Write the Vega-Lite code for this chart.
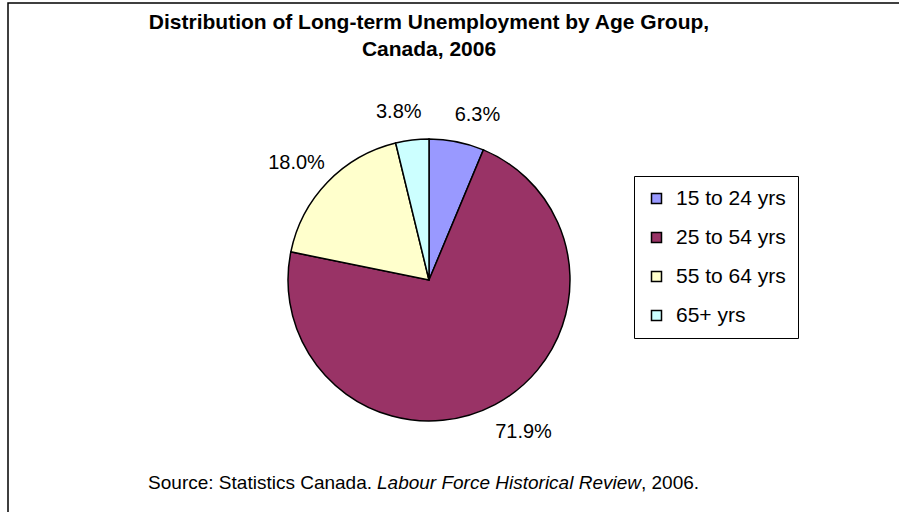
{
  "$schema": "https://vega.github.io/schema/vega-lite/v6.json",
  "width": 940,
  "height": 540,
  "autosize": {"type": "none"},
  "padding": {"left": 8, "top": 3, "right": -49, "bottom": -31},
  "background": "white",
  "view": {"stroke": "black", "strokeWidth": 1.5, "fill": "white"},
  "config": {"view": {"stroke": "black", "strokeWidth": 1.5}, "font": "Liberation Sans"},
  "title": {
    "text": ["Distribution of Long-term Unemployment by Age Group,", "Canada, 2006"],
    "fontSize": 21, "fontWeight": "bold", "font": "Liberation Sans", "color": "black",
    "anchor": "start", "frame": "group", "align": "center", "baseline": "alphabetic", "offset": 0,
    "dy": 74, "dx": 421, "lineHeight": 27
  },
  "data": {"values": [
    {"group": "15 to 24 yrs", "share": 0.063},
    {"group": "25 to 54 yrs", "share": 0.719},
    {"group": "55 to 64 yrs", "share": 0.180},
    {"group": "65+ yrs", "share": 0.038}
  ]},
  "layer": [
    {
      "mark": {"type": "arc", "x": 421, "y": 277, "outerRadius": 141, "stroke": "black", "strokeWidth": 1.5},
      "encoding": {
        "theta": {"field": "share", "type": "quantitative", "stack": true},
        "order": {"field": "group", "type": "ordinal"},
        "color": {
          "field": "group", "type": "nominal",
          "scale": {"domain": ["15 to 24 yrs", "25 to 54 yrs", "55 to 64 yrs", "65+ yrs"], "range": ["#9999FF", "#993366", "#FFFFCC", "#CCFFFF"]},
          "legend": {
            "orient": "none", "legendX": 626, "legendY": 173, "title": null,
            "strokeColor": "black", "fillColor": "white", "padding": 12,
            "symbolType": "square", "symbolSize": 100, "symbolStrokeColor": "black", "symbolStrokeWidth": 1.5,
            "labelFontSize": 21, "labelFont": "Liberation Sans", "labelColor": "black",
            "rowPadding": 17, "labelOffset": 9
          }
        }
      }
    },
    {
      "mark": {"type": "text", "x": 421, "y": 277, "radius": 170, "dx": 15, "dy": 2, "fontSize": 20, "font": "Liberation Sans", "color": "black", "baseline": "middle", "align": "center"},
      "encoding": {
        "theta": {"field": "share", "type": "quantitative", "stack": true},
        "order": {"field": "group", "type": "ordinal"},
        "detail": {"field": "group", "type": "nominal"},
        "text": {"condition": {"test": "datum.group == '15 to 24 yrs' || datum.group == '25 to 54 yrs'", "field": "share", "type": "quantitative", "format": ".1%"}, "value": ""}
      }
    },
    {
      "mark": {"type": "text", "x": 421, "y": 277, "radius": 170, "dx": -10, "dy": 1, "fontSize": 20, "font": "Liberation Sans", "color": "black", "baseline": "middle", "align": "center"},
      "encoding": {
        "theta": {"field": "share", "type": "quantitative", "stack": true},
        "order": {"field": "group", "type": "ordinal"},
        "detail": {"field": "group", "type": "nominal"},
        "text": {"condition": {"test": "datum.group == '55 to 64 yrs' || datum.group == '65+ yrs'", "field": "share", "type": "quantitative", "format": ".1%"}, "value": ""}
      }
    },
    {
      "data": {"values": [{"note": "Source: Statistics Canada."}]},
      "mark": {"type": "text", "x": 364, "y": 486, "align": "right", "baseline": "alphabetic", "fontSize": 19, "font": "Liberation Sans", "color": "black"},
      "encoding": {"text": {"field": "note", "type": "nominal"}}
    },
    {
      "data": {"values": [{"note": "Labour Force Historical Review"}]},
      "mark": {"type": "text", "x": 369, "y": 486, "align": "left", "baseline": "alphabetic", "fontSize": 19, "fontStyle": "italic", "font": "Liberation Sans", "color": "black"},
      "encoding": {"text": {"field": "note", "type": "nominal"}}
    },
    {
      "data": {"values": [{"note": ", 2006."}]},
      "mark": {"type": "text", "x": 633, "y": 486, "align": "left", "baseline": "alphabetic", "fontSize": 19, "font": "Liberation Sans", "color": "black"},
      "encoding": {"text": {"field": "note", "type": "nominal"}}
    }
  ]
}
